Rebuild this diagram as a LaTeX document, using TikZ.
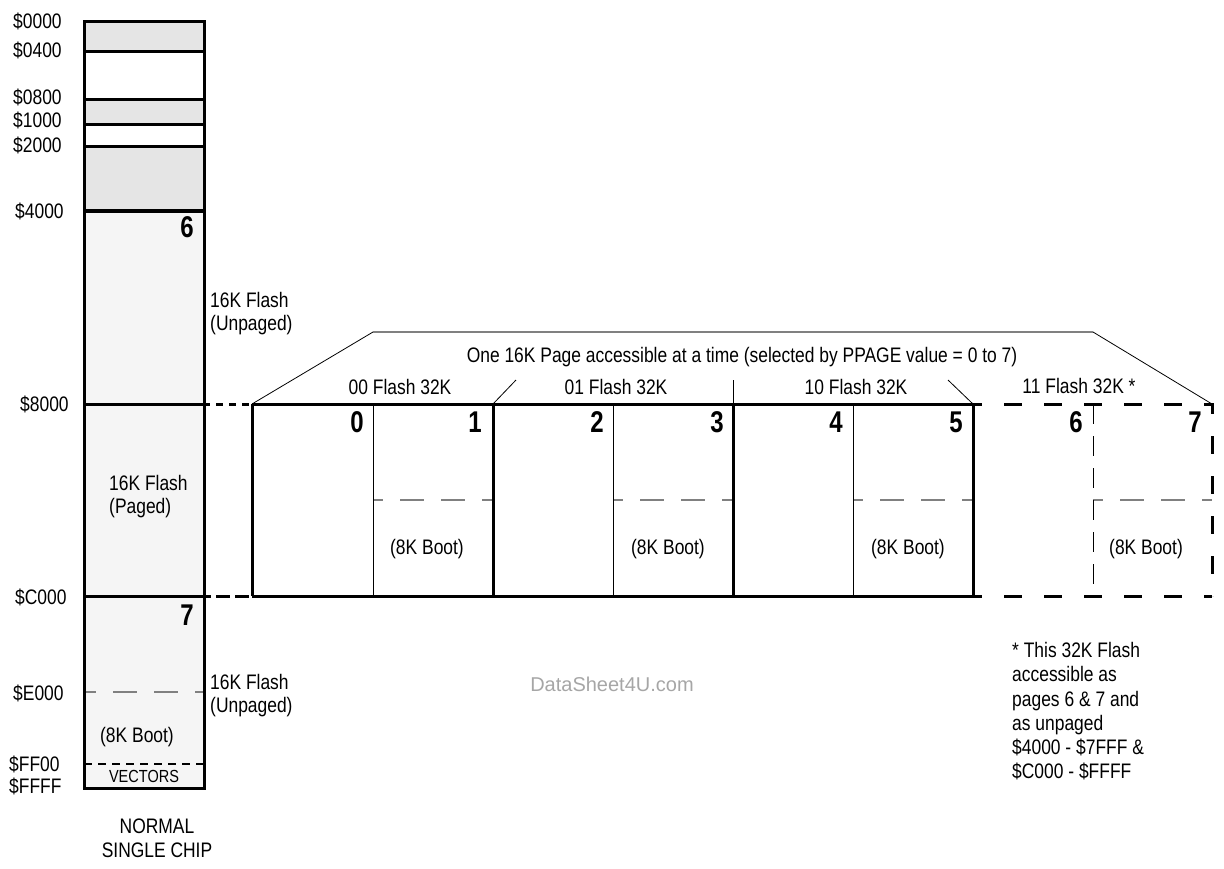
\documentclass[tikz,border=0pt]{standalone}
\usepackage{fontspec}
\setmainfont{Liberation Sans}[FakeStretch=0.83]
\newfontfamily\wmfont{Liberation Sans}
\newfontfamily\numfont{Liberation Sans Bold}[FakeStretch=0.8]
\definecolor{lgray}{HTML}{E5E5E5}
\definecolor{vlgray}{HTML}{F5F5F5}
\definecolor{dgray}{HTML}{808080}
\begin{document}
\begin{tikzpicture}[x=1pt,y=-1pt,
  lbl/.style={inner sep=0pt, font=\fontsize{21}{23.5}\selectfont},
  addr/.style={lbl, anchor=base west},
  ctr/.style={lbl, anchor=base},
  twoline/.style={lbl, anchor=north west, align=left},
  num/.style={inner sep=0pt, anchor=base east, font=\numfont\fontsize{30}{32}\selectfont},
  border/.style={line width=3pt},
  thinline/.style={line width=1pt},
  graydash/.style={draw=dgray, line width=1.3pt, dash pattern=on 24pt off 17pt},
  bigdash/.style={line width=3pt, dash pattern=on 18pt off 22pt},
  thindash/.style={line width=1pt, dash pattern=on 20pt off 12pt},
  linkdash/.style={line width=3pt, dash pattern=on 7pt off 6pt},
  trap/.style={line width=0.8pt},
]
\useasboundingbox (0,0) rectangle (1224,868);

% ---------- left column ----------
\fill[lgray] (84,21) rectangle (204,51);
\fill[lgray] (84,99) rectangle (204,124);
\fill[lgray] (84,146) rectangle (204,211);
\fill[vlgray] (84,211) rectangle (204,788);
\draw[graydash, dash phase=12pt] (84,692) -- (204,692);
\draw[line width=2pt, dash pattern=on 8pt off 6pt] (84,764) -- (204,764);
\draw[border] (84,51) -- (204,51);
\draw[border] (84,99) -- (204,99);
\draw[border] (84,124) -- (204,124);
\draw[border] (84,146) -- (204,146);
\draw[line width=4pt] (84,211) -- (204,211);
\draw[border] (84,404) -- (204,404);
\draw[border] (84,596) -- (204,596);
\draw[border] (84,21) rectangle (204,788);

\coordinate (colA) at (205,404);
\coordinate (colB) at (205,596);
\coordinate (pgA) at (252,404);
\coordinate (pgB) at (252,596);
\draw[linkdash, dash phase=-11pt] (colA) -- (pgA);
\draw[line width=3pt, dash pattern=on 14pt off 5pt, dash phase=-11pt] (colB) -- (pgB);

% address labels
\node[addr] (a0) at (13,28) {\$0000};
\node[addr] (a1) at (13,57) {\$0400};
\node[addr] (a2) at (13,104) {\$0800};
\node[addr] (a3) at (13,127) {\$1000};
\node[addr] (a4) at (13,152) {\$2000};
\node[addr] (a5) at (15,218) {\$4000};
\node[addr] (a6) at (20,411) {\$8000};
\node[addr] (a7) at (15,604) {\$C000};
\node[addr] (a8) at (13,700) {\$E000};
\node[addr] (a9) at (9,771) {\$FF00};
\node[addr] (a10) at (9,793) {\$FFFF};

\node[num] (n6L) at (194,237) {6};
\node[num] (n7L) at (194,625) {7};
\node[twoline] (unp1) at (210,292) {16K Flash\\(Unpaged)};
\node[twoline] (paged) at (109,475) {16K Flash\\(Paged)};
\node[twoline] (unp2) at (210,674) {16K Flash\\(Unpaged)};
\node[ctr] (bootL) at (137,742) {(8K Boot)};
\node[inner sep=0pt, anchor=base, font=\fontsize{17.5}{20}\selectfont] (vec) at (144,782) {VECTORS};
\node[ctr] (norm) at (157,833) {NORMAL};
\node[ctr] (single) at (157,857) {SINGLE CHIP};

% ---------- paged window ----------
\draw[graydash, dash phase=14pt] (373,500) -- (493,500);
\draw[graydash, dash phase=14pt] (613,500) -- (733,500);
\draw[graydash, dash phase=14pt] (853,500) -- (973,500);
\draw[graydash, dash phase=14pt] (1093,500) -- (1212,500);
\draw[thinline] (373,404) -- (373,596);
\draw[thinline] (613,404) -- (613,596);
\draw[thinline] (853,404) -- (853,596);
\draw[border] (252,404) -- (973,404);
\draw[border] (252,596) -- (973,596);
\foreach \x in {252,493,733,973} \draw[border] (\x,404) -- (\x,596);
\draw[thindash] (1093,404) -- (1093,596);
\draw[bigdash, dash phase=9pt] (973,404) -- (1212,404) -- (1212,596);
\draw[bigdash, dash phase=9pt] (973,596) -- (1212,596);

% trapezoid
\coordinate (tl) at (373,332);
\coordinate (tr) at (1093,332);
\coordinate (pgR) at (1212,404);
\draw[trap] (pgA) -- (tl);
\draw[dgray, line width=1.5pt] (tl) -- (tr);
\draw[trap] (tr) -- (pgR);
\draw[trap] (493,404) -- (516,380);
\draw[trap] (733,404) -- (733,380);
\draw[trap] (973,404) -- (948,380);

\node[ctr] (one) at (742,362) {One 16K Page accessible at a time (selected by PPAGE value = 0 to 7)};
\node[ctr] (f00) at (400,394) {00 Flash 32K};
\node[ctr] (f01) at (616,394) {01 Flash 32K};
\node[ctr] (f10) at (856,394) {10 Flash 32K};
\node[ctr] (f11) at (1079,393) {11 Flash 32K *};

\node[num] (p0) at (364,432) {0};
\node[num] (p1) at (482,432) {1};
\node[num] (p2) at (604,432) {2};
\node[num] (p3) at (724,432) {3};
\node[num] (p4) at (843,432) {4};
\node[num] (p5) at (963,432) {5};
\node[num] (p6) at (1083,432) {6};
\node[num] (p7) at (1202,432) {7};

\node[ctr] (b1) at (427,554) {(8K Boot)};
\node[ctr] (b3) at (668,554) {(8K Boot)};
\node[ctr] (b5) at (908,554) {(8K Boot)};
\node[ctr] (b7) at (1146,554) {(8K Boot)};

\node[inner sep=0pt, text=gray!70, font=\wmfont\fontsize{20}{24}\selectfont] (wm) at (612,684) {DataSheet4U.com};

\node[lbl, anchor=north west, align=left, font=\fontsize{21}{24.3}\selectfont] (note) at (1012,642)
  {* This 32K Flash\\accessible as\\pages 6 \& 7 and\\as unpaged\\\$4000 - \$7FFF \&\\\$C000 - \$FFFF};
\end{tikzpicture}
\end{document}
